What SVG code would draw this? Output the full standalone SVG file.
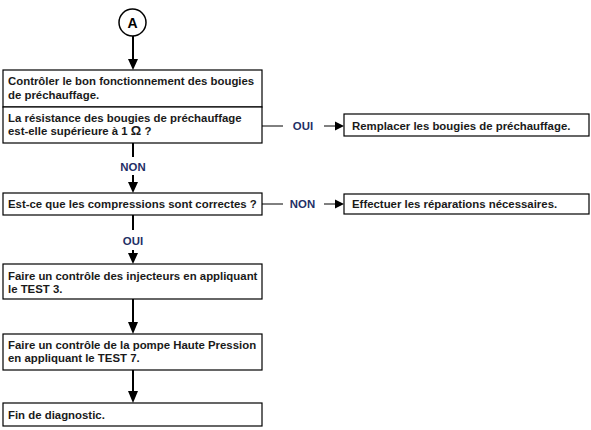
<svg xmlns="http://www.w3.org/2000/svg" width="591" height="430" viewBox="0 0 591 430">
<style>
.box{fill:#fff;stroke:#000;stroke-width:1.2}
.t{font-family:"Liberation Sans",Arial,sans-serif;font-weight:bold;font-size:11.4px;fill:#1a1a1a}
.lbl{font-family:"Liberation Sans",Arial,sans-serif;font-weight:bold;font-size:11.4px;fill:#1f2f66}
.v{stroke:#000;stroke-width:2;fill:none}
.h{stroke:#000;stroke-width:1;fill:none}
</style>
<rect width="591" height="430" fill="#fff"/>
<g id="connectors">
<line class="v" x1="133" y1="36" x2="133" y2="60"/>
<path d="M128,59 L138,59 L133,70 Z"/>
<line class="v" x1="133" y1="143" x2="133" y2="157"/>
<line class="v" x1="133" y1="175" x2="133" y2="183"/>
<path d="M128,182 L138,182 L133,193 Z"/>
<line class="v" x1="133" y1="215" x2="133" y2="230"/>
<line class="v" x1="133" y1="250" x2="133" y2="254"/>
<path d="M128,253 L138,253 L133,264 Z"/>
<line class="v" x1="133" y1="299" x2="133" y2="323"/>
<path d="M128,322 L138,322 L133,334 Z"/>
<line class="v" x1="133" y1="370" x2="133" y2="392"/>
<path d="M128,391 L138,391 L133,403 Z"/>
<line class="h" x1="262" y1="126" x2="283" y2="126"/>
<line class="h" x1="324" y1="126" x2="336" y2="126"/>
<path d="M335,121.5 L344,126 L335,130.5 Z"/>
<line class="h" x1="262" y1="204" x2="283" y2="204"/>
<line class="h" x1="324" y1="204" x2="336" y2="204"/>
<path d="M335,199.5 L344,204 L335,208.5 Z"/>
<text class="lbl" x="303" y="130" text-anchor="middle">OUI</text>
<text class="lbl" x="133" y="171" text-anchor="middle">NON</text>
<text class="lbl" x="302.5" y="208" text-anchor="middle">NON</text>
<text class="lbl" x="133" y="245" text-anchor="middle">OUI</text>
</g>
<g id="start">
<circle cx="132.5" cy="22.5" r="13.5" fill="#fff" stroke="#000" stroke-width="1.5"/>
<text x="132.5" y="27.5" text-anchor="middle" font-family="Liberation Sans,Arial,sans-serif" font-weight="bold" font-size="14px" fill="#000">A</text>
</g>
<g id="n1">
<rect class="box" x="3" y="70" width="259" height="37"/>
<text class="t" x="8" y="85">Contrôler le bon fonctionnement des bougies</text>
<text class="t" x="8" y="99">de préchauffage.</text>
</g>
<g id="n2">
<rect class="box" x="3" y="107" width="259" height="36"/>
<text class="t" x="8" y="121.5">La résistance des bougies de préchauffage</text>
<text class="t" x="8" y="135">est-elle supérieure à 1 <tspan font-size="13px">Ω</tspan> ?</text>
</g>
<g id="n3">
<rect class="box" x="344" y="114" width="245" height="22"/>
<text class="t" x="352" y="130">Remplacer les bougies de préchauffage.</text>
</g>
<g id="n4">
<rect class="box" x="3" y="193" width="259" height="22"/>
<text class="t" x="8" y="208">Est-ce que les compressions sont correctes ?</text>
</g>
<g id="n5">
<rect class="box" x="344" y="194" width="245" height="20"/>
<text class="t" x="352" y="208">Effectuer les réparations nécessaires.</text>
</g>
<g id="n6">
<rect class="box" x="3" y="264" width="259" height="35"/>
<text class="t" x="8" y="279.5">Faire un contrôle des injecteurs en appliquant</text>
<text class="t" x="8" y="292.5">le TEST 3.</text>
</g>
<g id="n7">
<rect class="box" x="3" y="334" width="259" height="36"/>
<text class="t" x="8" y="348.5">Faire un contrôle de la pompe Haute Pression</text>
<text class="t" x="8" y="362">en appliquant le TEST 7.</text>
</g>
<g id="n8">
<rect class="box" x="3" y="403" width="259" height="23"/>
<text class="t" x="8" y="419">Fin de diagnostic.</text>
</g>
</svg>
